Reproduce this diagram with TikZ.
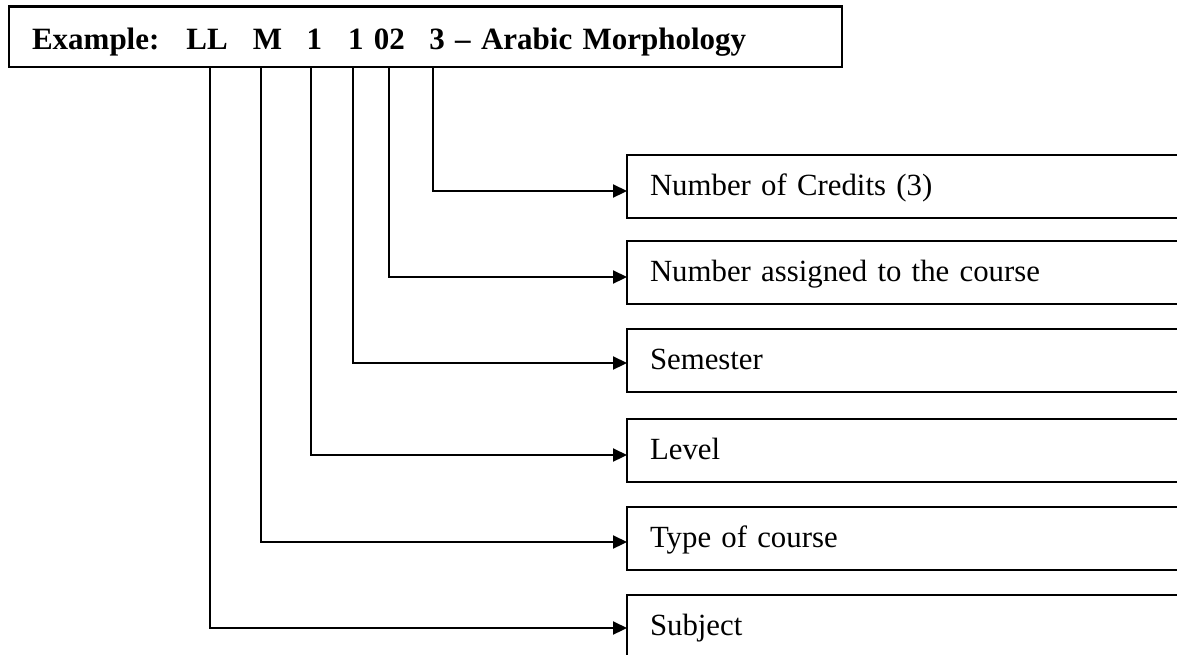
\documentclass[tikz,border=0pt]{standalone}
\usepackage{fontspec}
\setmainfont{Liberation Serif}
\usetikzlibrary{arrows.meta}
\begin{document}
\begin{tikzpicture}[x=1pt,y=-1pt,
  ln/.style={line width=2.2pt},
  titlebox/.style={draw, ln, rectangle, outer sep=0pt, anchor=north west,
    minimum width=833pt, minimum height=60.2pt, inner xsep=23pt, inner ysep=0pt,
    text width=787pt, align=left, text height=26pt, text depth=0.6pt,
    font=\fontsize{31}{36}\selectfont\bfseries},
  infobox/.style={draw, ln, rectangle, outer sep=0pt, anchor=north west,
    minimum width=570pt, minimum height=63pt, inner xsep=23pt, inner ysep=0pt,
    text width=524pt, align=left, text height=23pt, text depth=6pt,
    font=\fontsize{30.8}{36}\selectfont},
  conn/.style={ln, -{Triangle[length=14pt,width=13pt]}}]
\useasboundingbox (0,0) rectangle (1177,654);

\node[titlebox] (title) at (9,6.5) {Example:\hspace*{27pt}LL\hspace*{25pt}M\hspace*{24.5pt}1\hspace*{26pt}1 02\hspace*{24.5pt}3 – Arabic Morphology};

\node[infobox] (b1) at (627,155) {Number of Credits (3)};
\node[infobox] (b2) at (627,241) {Number assigned to the course};
\node[infobox] (b3) at (627,329) {Semester};
\node[infobox] (b4) at (627,419) {Level};
\node[infobox] (b5) at (627,507) {Type of course};
\node[infobox] (b6) at (627,595) {Subject};

\draw[conn] ([xshift=427pt]title.south west) -- ++(-3,0) |- ([yshift=-4.5pt]b1.west);
\draw[conn] ([xshift=384pt]title.south west) -- ++(-4,0) |- ([yshift=-4.5pt]b2.west);
\draw[conn] ([xshift=349pt]title.south west) -- ++(-5,0) |- ([yshift=-2.5pt]b3.west);
\draw[conn] ([xshift=307pt]title.south west) -- ++(-5,0) |- ([yshift=-4.5pt]b4.west);
\draw[conn] ([xshift=258pt]title.south west) -- ++(-6,0) |- ([yshift=-3.5pt]b5.west);
\draw[conn] ([xshift=208pt]title.south west) -- ++(-7,0) |- ([yshift=-1.5pt]b6.west);
\end{tikzpicture}
\end{document}
